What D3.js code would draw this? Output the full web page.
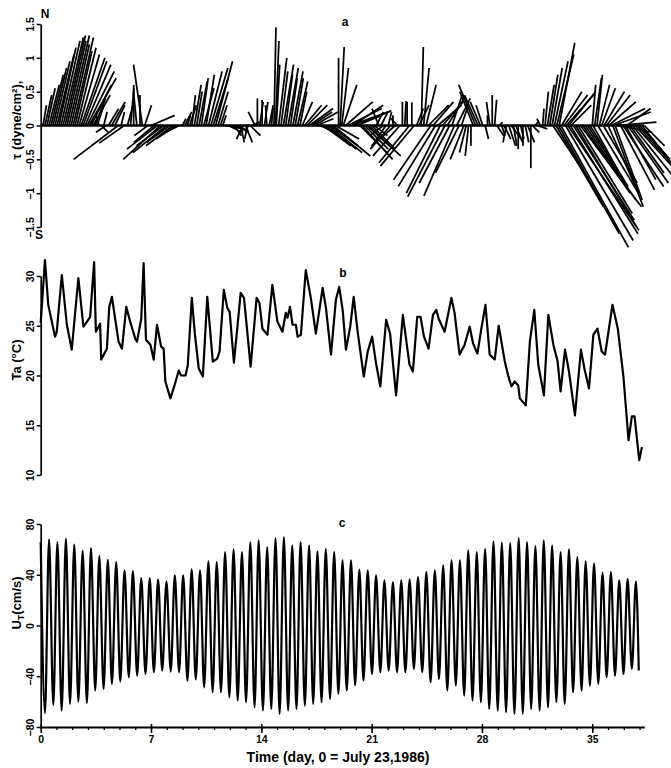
<!DOCTYPE html>
<html><head><meta charset="utf-8">
<script src="https://cdn.jsdelivr.net/npm/d3@7"></script>
<style>
body{margin:0;background:#fff}
text{font-family:"Liberation Sans",Arial,sans-serif;font-weight:bold;fill:#000}
</style>
</head><body>
<svg id="chart" width="671" height="768"></svg>
<script>
// ---------- DATA ----------
// x-axis ticks (days)
const dayTicks = [0, 7, 14, 21, 28, 35];
const stressTicks = [-1.5, -1, -0.5, 0, 0.5, 1, 1.5];
const stressTickLabels = ["−1.5", "−1", "−0.5", "0", "0.5", "1", "1.5"];
const tempTicks = [10, 15, 20, 25, 30];
const velTicks = [-80, -40, 0, 40, 80];

// Panel a: wind stress sticks [day, east component, north component] (dyne/cm²)
const windStress = [
 [0.15,0.05,0.3],[0.27,0.1,0.45],[0.40,0.12,0.55],[0.53,0.15,0.6],[0.66,0.18,0.75],[0.78,0.2,0.85],
 [0.91,0.22,0.95],[1.04,0.25,1.05],[1.16,0.25,1.15],[1.29,0.28,1.25],[1.42,0.3,1.3],[1.55,0.3,1.33],
 [1.67,0.28,1.25],[1.80,0.3,1.33],[1.93,0.27,1.2],[2.06,0.3,1.3],[2.18,0.25,1.1],[2.31,0.28,1.15],
 [2.44,0.3,1.05],[2.57,0.35,1.0],[2.69,0.35,0.95],[2.82,0.38,0.9],[2.95,0.4,0.8],[3.07,0.4,0.7],
 [3.20,0.3,0.6],[3.33,0.25,0.45],[3.46,0.15,0.4],[3.58,0.1,0.3],[3.71,-0.05,0.15],
 [3.85,0.1,-0.1],[4.0,0.05,0.2],[4.15,-0.15,-0.1],[4.3,0.15,0.25],[4.5,0.2,0.35],[4.7,0.15,0.3],
 [4.92,-0.66,-0.5],[5.1,0.05,0.2],[5.3,-0.37,-0.26],[5.5,0.1,0.35],[5.7,0.05,0.55],[5.9,0.0,0.6],
 [6.1,-0.05,0.5],[6.3,0.0,0.45],[6.45,-0.13,0.9],[6.6,0.1,0.3],[6.8,-0.2,-0.15],[7.0,0.35,0.15],
 [7.2,-0.3,-0.25],[7.4,-0.45,-0.35],[7.6,-0.55,-0.5],[7.8,-0.4,-0.3],[8.0,-0.5,-0.4],[8.2,-0.35,-0.25],
 [8.4,-0.4,-0.3],[8.6,-0.3,-0.2],[8.8,-0.2,-0.1],[9.0,0.05,0.1],
 [9.15,0.1,0.2],[9.3,0.05,0.15],[9.45,0.1,0.3],[9.6,0.05,0.45],[9.75,0.1,0.6],[9.9,0.08,0.5],
 [10.05,0.12,0.65],[10.2,0.1,0.7],[10.35,0.15,0.55],[10.5,0.12,0.75],[10.65,0.2,0.8],[10.8,0.25,0.85],
 [10.95,0.22,0.7],[11.1,0.25,0.95],[11.25,0.15,0.5],[11.4,0.1,0.3],[11.55,0.05,0.15],
 [11.7,0.3,-0.05],[11.9,0.2,-0.1],[12.1,0.25,-0.08],[12.3,0.1,-0.15],[12.5,0.15,-0.1],[12.7,0.05,-0.25],
 [12.85,-0.1,-0.2],[13.0,0.1,-0.25],[13.15,-0.05,-0.2],[13.3,0.15,-0.15],[13.45,0.1,0.05],
 [13.6,-0.1,0.2],[13.75,0.0,0.4],[13.9,0.05,0.35],[14.05,0.0,0.38],[14.2,0.05,0.35],[14.35,-0.02,0.3],
 [14.5,0.05,0.25],[14.65,0.02,0.3],[14.8,0.03,1.45],[14.9,0.05,1.25],[14.95,0.05,0.9],[15.1,0.12,1.0],
 [15.25,0.1,0.8],[15.4,0.15,0.9],[15.55,0.1,0.75],[15.7,0.15,0.85],[15.85,0.1,0.7],[16.0,0.15,0.8],
 [16.15,0.12,0.7],[16.3,0.15,0.65],[16.45,0.1,0.5],
 [16.6,0.15,0.35],[16.75,0.25,0.3],[16.9,0.3,0.3],[17.05,0.35,0.25],[17.2,0.3,0.2],[17.35,0.35,0.2],
 [17.5,0.25,0.1],[17.65,0.3,-0.1],[17.8,0.35,-0.2],[17.95,0.4,-0.3],[18.1,0.45,-0.35],[18.25,0.5,-0.4],
 [18.4,0.4,-0.3],[18.55,0.55,-0.45],[18.7,0.35,-0.2],[18.9,0.0,1.0],[19.0,0.06,1.16],[19.1,0.1,0.85],
 [19.2,0.2,0.6],[19.35,0.4,0.35],[19.5,0.5,0.25],[19.65,0.55,0.2],[19.8,0.45,0.3],[19.95,0.4,0.15],
 [20.1,0.5,0.22],[20.25,0.4,-0.4],[20.4,0.45,-0.5],[20.55,0.35,-0.35],[20.7,0.5,-0.45],[20.85,0.3,-0.3],
 [21.0,0.35,-0.35],[21.15,0.2,-0.15],[21.3,0.1,0.2],[21.45,-0.1,0.25],[21.6,0.1,0.2],[21.75,-0.2,-0.15],
 [21.9,-0.2,-0.3],[22.05,0.05,0.2],[22.2,-0.3,-0.35],[22.35,0.0,0.15],[22.5,-0.35,-0.3],[22.65,-0.1,0.1],
 [22.8,-0.4,-0.45],[22.95,0.0,0.35],[23.1,0.02,0.36],[23.25,0.0,0.35],[23.4,-0.45,-0.55],[23.55,0.0,0.34],
 [23.7,-0.5,-0.6],[23.85,0.1,0.25],[24.0,0.15,0.3],[24.15,0.03,1.16],[24.3,0.08,0.85],[24.45,0.15,0.6],
 [24.6,0.3,0.3],[24.75,-0.55,-0.8],[24.9,0.3,0.35],[25.05,-0.55,-0.9],[25.2,0.35,0.3],[25.35,-0.5,-1.0],
 [25.5,0.3,0.35],[25.65,-0.55,-1.05],[25.8,0.25,0.4],[25.95,-0.45,-0.85],[26.1,0.15,0.45],[26.25,-0.45,-1.04],
 [26.4,0.2,0.4],[26.55,-0.35,-0.7],[26.7,0.1,0.3],[26.85,-0.2,-0.5],[27.0,-0.1,-0.4],
 [27.15,-0.05,-0.45],[27.3,0.0,-0.3],[27.45,-0.2,0.5],[27.6,-0.25,0.6],[27.75,-0.2,0.45],[27.9,-0.15,0.35],
 [28.05,-0.1,0.3],[28.2,0.05,-0.2],[28.35,0.0,0.15],[28.5,-0.05,0.35],[28.65,0.0,0.45],[28.8,0.03,0.38],
 [28.95,0.1,-0.15],[29.1,0.05,0.05],[29.25,0.05,-0.15],[29.4,0.1,-0.2],[29.55,-0.05,-0.25],[29.7,0.1,-0.3],
 [29.85,0.15,-0.2],[30.0,0.05,-0.3],[30.15,0.1,-0.25],[30.3,0.0,-0.35],[30.45,0.05,-0.2],[30.6,0.0,-0.3],
 [30.75,0.05,-0.25],[30.9,0.1,-0.25],[31.1,0.0,-0.63],[31.2,0.1,-0.1],[31.35,0.05,0.05],[31.5,0.15,-0.05],
 [31.7,-0.05,0.1],[31.85,0.02,0.25],[32.0,0.05,0.5],[32.15,0.1,0.6],[32.3,0.12,0.75],[32.45,0.15,0.85],
 [32.6,0.2,0.95],[32.75,0.25,1.05],[32.9,0.23,1.22],[33.05,0.3,0.5],[33.2,0.35,0.45],[33.35,0.4,0.45],
 [33.5,0.4,0.5],[33.65,0.3,0.3],
 [32.5,0.4,-0.6],[32.7,0.7,-1.2],[32.85,0.9,-1.6],[33.0,1.0,-1.8],[33.3,1.0,-1.7],[33.45,1.05,-1.55],
 [33.6,1.0,-1.6],[33.8,0.9,-1.4],[33.95,0.9,-1.5],[34.1,0.8,-1.3],[34.25,0.9,-1.2],[34.4,0.7,-1.0],
 [34.55,0.75,-1.1],[34.7,0.6,-0.9],[34.85,0.5,-0.8],
 [35.0,0.05,0.6],[35.15,0.1,0.7],[35.3,0.08,0.75],[35.45,0.15,0.6],[35.6,0.2,0.55],[35.75,0.3,0.5],
 [35.9,0.35,0.45],[36.05,0.4,0.35],[36.2,0.5,0.25],[36.35,0.55,0.2],[36.5,0.6,0.05],[36.65,0.5,-0.1],
 [37.2,0.35,0.25],
 [35.05,0.5,-0.9],[35.35,0.6,-1.0],[35.7,0.5,-0.85],[36.0,0.45,-1.0],[36.3,0.45,-1.2],[36.45,0.4,-1.1],
 [36.8,0.5,-0.95],[36.95,0.6,-0.9],[37.1,0.45,-0.8],[37.25,0.6,-0.85],[37.4,0.5,-0.7],[37.55,0.6,-0.75],
 [37.7,0.55,-0.6],[37.85,0.5,-0.55],[38.0,0.45,-0.5],[38.15,0.4,-0.5],[38.3,0.3,-0.3]
];

// Panel b: air temperature [day, °C]
const airTemp = [
 [0.0,25.3],[0.27,31.6],[0.48,27.1],[0.91,23.9],[1.02,24.4],[1.34,30.1],[1.66,25.1],[1.97,22.6],
 [2.39,29.8],[2.71,24.9],[2.93,25.4],[3.14,25.9],[3.39,31.4],[3.50,24.4],[3.77,25.2],[3.84,21.6],
 [4.20,22.7],[4.35,26.9],[4.52,27.9],[4.94,23.4],[5.16,22.7],[5.43,26.9],[5.68,25.4],[6.00,23.7],
 [6.11,23.4],[6.38,25.7],[6.53,31.3],[6.68,23.6],[6.96,23.1],[7.17,21.6],[7.38,25.1],[7.64,22.9],
 [7.80,22.7],[7.91,19.4],[8.23,17.7],[8.49,19.0],[8.76,20.5],[8.91,20.0],[9.19,20.0],[9.33,21.0],
 [9.59,27.8],[9.78,24.2],[10.03,20.7],[10.29,19.9],[10.57,27.9],[10.92,21.4],[11.20,21.7],[11.35,22.4],
 [11.62,28.6],[11.84,26.8],[11.99,26.4],[12.26,21.3],[12.69,28.3],[12.90,27.8],[13.32,20.9],[13.70,27.8],
 [13.88,27.3],[14.07,24.7],[14.39,24.1],[14.70,29.1],[15.02,25.4],[15.34,24.4],[15.55,26.3],[15.66,25.8],
 [15.82,26.9],[15.98,25.1],[16.19,25.1],[16.30,23.9],[16.51,24.1],[16.82,30.6],[17.14,27.8],[17.46,24.2],
 [17.89,28.8],[18.10,26.8],[18.42,22.1],[18.73,27.6],[18.94,28.9],[19.16,26.6],[19.37,22.6],[19.64,24.9],
 [19.86,27.9],[20.11,24.4],[20.50,19.9],[20.75,22.4],[21.03,23.9],[21.28,21.2],[21.55,18.9],[21.92,25.6],
 [22.17,24.2],[22.55,18.0],[22.98,26.1],[23.40,21.1],[23.62,20.4],[23.89,25.9],[24.10,25.9],[24.32,23.9],
 [24.61,22.7],[24.89,26.1],[25.10,26.6],[25.25,25.7],[25.63,24.4],[26.06,27.8],[26.26,26.3],[26.58,22.1],
 [26.90,23.1],[27.22,24.9],[27.44,23.2],[27.71,22.2],[27.96,24.7],[28.22,27.1],[28.49,22.1],[28.81,21.6],
 [29.06,25.0],[29.45,21.4],[29.66,20.0],[29.87,18.9],[30.08,19.4],[30.30,19.0],[30.40,17.7],[30.78,17.0],
 [31.04,23.4],[31.32,26.6],[31.57,21.1],[31.93,18.0],[32.21,26.1],[32.53,23.1],[32.80,21.4],[32.99,18.4],
 [33.27,22.6],[33.52,20.4],[33.90,16.0],[34.28,22.6],[34.50,20.7],[34.79,18.7],[35.07,24.1],[35.33,24.7],
 [35.60,22.4],[35.81,22.1],[36.28,27.1],[36.62,24.7],[36.98,19.8],[37.30,13.5],[37.51,15.9],[37.68,15.9],
 [37.98,11.5],[38.15,12.8]
];

// Panel c: tidal velocity extrema (cm/s), flood peaks and ebb troughs
const peakDay = [0.00,0.53,1.06,1.60,2.13,2.66,3.19,3.72,4.26,4.79,5.32,5.85,6.38,6.92,7.45,7.98,8.51,9.04,
 9.58,10.11,10.64,11.17,11.70,12.24,12.77,13.30,13.83,14.37,14.90,15.43,15.96,16.49,17.03,17.56,18.09,18.62,
 19.15,19.69,20.22,20.75,21.28,21.81,22.35,22.88,23.41,23.94,24.47,25.01,25.54,26.07,26.60,27.13,27.67,28.20,
 28.73,29.26,29.79,30.33,30.86,31.39,31.92,32.45,32.99,33.52,34.05,34.58,35.11,35.65,36.18,36.71,37.24,37.77];
const peakVel = [65.8,67.9,65.8,68.4,63.7,59,61,54.7,51.8,50,43.4,42.9,37.4,37.4,36.3,34.7,39.5,39.5,
 44.2,43.4,50.5,50,57.9,60,57.9,65.8,67.1,61.8,68.9,69.7,63.2,65.8,63.2,58.4,60.5,57.9,
 51.3,51.3,44,43.4,39.5,35.5,34.2,35.5,36.3,38.2,42.1,43.4,47.4,51.3,51.3,59.2,57.9,60.5,
 66.3,65.3,65,68.9,65.8,62.6,67.1,63.2,57.9,60,53.9,50.5,48.7,41.6,42.1,35.5,36.8,34.7];
const troughDay = [0.27,0.80,1.33,1.86,2.39,2.93,3.46,3.99,4.52,5.05,5.59,6.12,6.65,7.18,7.71,8.25,8.78,9.31,
 9.84,10.37,10.91,11.44,11.97,12.50,13.03,13.57,14.10,14.63,15.16,15.70,16.23,16.76,17.29,17.82,18.36,18.89,
 19.42,19.95,20.48,21.02,21.55,22.08,22.61,23.14,23.68,24.21,24.74,25.27,25.80,26.34,26.87,27.40,27.93,28.46,
 29.00,29.53,30.06,30.59,31.12,31.66,32.19,32.72,33.25,33.78,34.32,34.85,35.38,35.91,36.44,36.98,37.51,37.95];
const troughVel = [-69,-62.6,-67,-61.8,-60,-61,-51.3,-50,-46,-44.2,-40.8,-39.5,-38.2,-36.8,-35.5,-36.3,-36.8,-43.4,
 -42.5,-48.7,-52.6,-52.6,-56.6,-59.2,-60.5,-64.5,-67.1,-65.8,-69.7,-67.1,-65.8,-63.2,-61.8,-60.5,-57.9,-53.9,
 -51.3,-47,-43.4,-38.2,-36.8,-35.5,-36.8,-36.8,-34.2,-36.8,-44.7,-42.1,-51.3,-47.4,-55.3,-59.2,-60.5,-65.8,
 -67.1,-68.4,-69.7,-69.7,-65.8,-67.1,-64.5,-60.5,-61.8,-52.6,-51.3,-47.4,-46,-40.8,-39.5,-38.2,-34.2,-35.5];

// ---------- DRAW ----------
const svg = d3.select("#chart");
const x = d3.scaleLinear().domain([0, 38.3]).range([40.7, 644.3]);
const ya = d3.scaleLinear().domain([-1.5, 1.5]).range([227, 24]);
const yb = d3.scaleLinear().domain([10, 30]).range([475, 276]);
const yc = d3.scaleLinear().domain([-80, 80]).range([727, 524]);

function leftAxis(scale, ticks, fmt) {
  const g = svg.append("g").attr("transform", `translate(${x(0)},0)`)
    .call(d3.axisLeft(scale).tickValues(ticks).tickFormat(fmt).tickSize(4).tickSizeOuter(0));
  g.select(".domain").attr("stroke", "#000").attr("stroke-width", 1.7);
  g.selectAll(".tick line").attr("stroke", "#000").attr("stroke-width", 1.5);
  g.selectAll(".tick text")
    .attr("transform", "rotate(-90)")
    .attr("x", 0).attr("y", -7).attr("dy", 0)
    .attr("text-anchor", "middle")
    .style("font-size", "10.5px").style("font-family", '"Liberation Sans",Arial,sans-serif')
    .style("font-weight", "bold");
  return g;
}

// Panel a
leftAxis(ya, stressTicks, (d, i) => stressTickLabels[i]);
svg.append("line").attr("x1", x(0)).attr("x2", x(38.3))
  .attr("y1", ya(0)).attr("y2", ya(0)).attr("stroke", "#000").attr("stroke-width", 2.6);
svg.append("g").selectAll("line").data(windStress).join("line")
  .attr("x1", d => x(d[0])).attr("y1", ya(0))
  .attr("x2", d => x(d[0]) + (ya(0) - ya(d[1])))
  .attr("y2", d => ya(d[2]))
  .attr("stroke", "#000").attr("stroke-width", 1.75);
svg.append("text").attr("x", 45).attr("y", 18).attr("text-anchor", "middle")
  .style("font-size", "12px").text("N");
svg.append("text").attr("x", 39).attr("y", 239).attr("text-anchor", "middle")
  .style("font-size", "12px").text("S");
svg.append("text").attr("transform", "translate(21,120) rotate(-90)").attr("text-anchor", "middle")
  .style("font-size", "13px").text("τ (dyne/cm²),");
svg.append("text").attr("x", 345).attr("y", 26).attr("text-anchor", "middle")
  .style("font-size", "12px").text("a");

// Panel b
leftAxis(yb, tempTicks, d3.format("d"));
svg.append("path").datum(airTemp)
  .attr("fill", "none").attr("stroke", "#000").attr("stroke-width", 2.2)
  .attr("stroke-linejoin", "round")
  .attr("d", d3.line().x(d => x(d[0])).y(d => yb(d[1])));
svg.append("text").attr("transform", "translate(21,360) rotate(-90)").attr("text-anchor", "middle")
  .style("font-size", "13px").text("Ta (°C)");
svg.append("text").attr("x", 343).attr("y", 277).attr("text-anchor", "middle")
  .style("font-size", "12px").text("b");

// Panel c
leftAxis(yc, velTicks, d3.format("d"));
const tide = peakDay.map((d, i) => [d, peakVel[i]])
  .concat(troughDay.map((d, i) => [d, troughVel[i]]))
  .sort((a, b) => a[0] - b[0]);
svg.append("path").datum(tide)
  .attr("fill", "none").attr("stroke", "#000").attr("stroke-width", 2.2)
  .attr("d", d3.line().x(d => x(d[0])).y(d => yc(d[1])).curve(d3.curveMonotoneX));
svg.append("text").attr("transform", "translate(21,603) rotate(-90)").attr("text-anchor", "middle")
  .style("font-size", "13px")
  .call(t => { t.append("tspan").text("U");
               t.append("tspan").attr("dy", 3).style("font-size", "9px").text("T");
               t.append("tspan").attr("dy", -3).text("(cm/s)"); });
svg.append("text").attr("x", 342).attr("y", 527).attr("text-anchor", "middle")
  .style("font-size", "12px").text("c");

// x axis
const minorDays = d3.range(0, 39);
const xg = svg.append("g").attr("transform", `translate(0,${yc(-80)})`)
  .call(d3.axisBottom(x).tickValues(minorDays).tickSize(3).tickSizeOuter(0).tickFormat(""));
xg.select(".domain").attr("stroke", "#000").attr("stroke-width", 1.8);
xg.selectAll(".tick line").attr("stroke", "#000").attr("stroke-width", 1.3);
const xg2 = svg.append("g").attr("transform", `translate(0,${yc(-80)})`)
  .call(d3.axisBottom(x).tickValues(dayTicks).tickSize(6).tickSizeOuter(0).tickFormat(d3.format("d")));
xg2.select(".domain").remove();
xg2.selectAll(".tick line").attr("stroke", "#000").attr("stroke-width", 1.5).attr("y1", -3);
xg2.selectAll(".tick text").attr("y", 9).attr("dy", "0.71em")
  .style("font-size", "10.5px").style("font-family", '"Liberation Sans",Arial,sans-serif')
  .style("font-weight", "bold");
svg.append("text").attr("x", 338).attr("y", 762).attr("text-anchor", "middle")
  .style("font-size", "14px").text("Time (day, 0 = July 23,1986)");
</script>
</body></html>
